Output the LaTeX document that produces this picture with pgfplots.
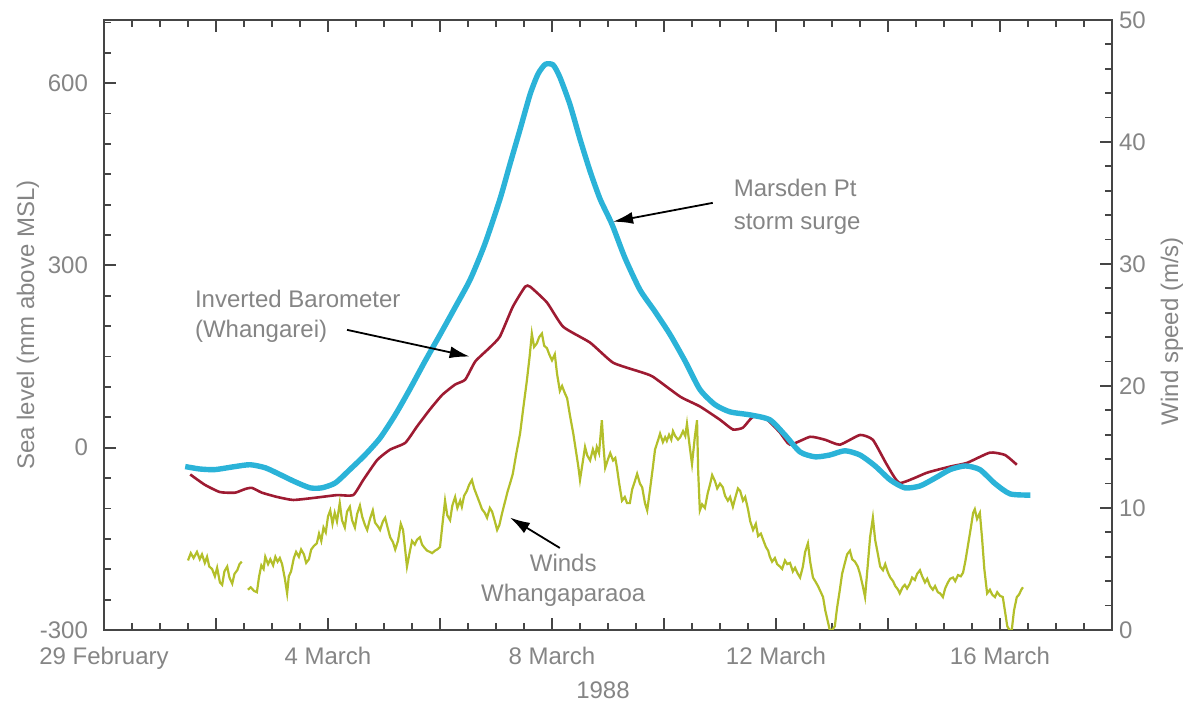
\documentclass[border=0pt]{standalone}
\usepackage{fontspec}
\setmainfont{Liberation Sans}
\usepackage{pgfplots}
\pgfplotsset{compat=1.18}
\usetikzlibrary{arrows.meta}
\definecolor{surge}{HTML}{2BB3D8}
\definecolor{baro}{HTML}{9E1B32}
\definecolor{windc}{HTML}{B3BF2A}
\definecolor{txt}{HTML}{858585}
\definecolor{axc}{HTML}{454545}
\begin{document}
\begin{tikzpicture}
\begin{axis}[at={(0,0)}, anchor=south west,
  scale only axis, width=504pt, height=305pt,
  xmin=0, xmax=18, ymin=-300, ymax=704,
  axis line style={axc, line width=0.8pt},
  every major tick/.append style={draw=axc, line width=1pt},
  every minor tick/.append style={draw=axc, line width=0.9pt},
  tick align=inside,
  major tick length=6pt, minor tick length=3.5pt,
  xtick={0,2,...,18},
  xticklabels={29 February,,4 March,,8 March,,12 March,,16 March,},
  minor xtick={0.5,1,...,17.5},
  xtick pos=both,
  ytick={-300,0,300,600},
  yticklabels={-300,0,300,600},
  minor ytick={-250,-200,...,700},
  ytick pos=left,
  tick label style={font=\fontsize{12}{14}\selectfont, text=txt},
  label style={font=\fontsize{12}{14}\selectfont, text=txt},
  xlabel={1988},
  ylabel={Sea level (mm above MSL)},
  ylabel style={at={(axis description cs:-0.0754,0.5)}, anchor=center},
  xlabel style={at={(axis description cs:0.495,-0.098)}, anchor=center},
  xticklabel style={yshift=-5pt},
  yticklabel style={xshift=-4.5pt},
]
% Inverted barometer (Whangarei)
\addplot[baro, line width=1.3pt, smooth, tension=0.3] table {
1.54 -44
1.80 -61
2.07 -73
2.34 -74
2.52 -68
2.64 -66
2.82 -74
3.09 -81
3.38 -86
3.80 -82
4.16 -78
4.45 -78
4.63 -53
4.88 -20
5.11 -3
5.38 8
5.59 35
5.82 63
6.04 87
6.27 104
6.45 112
6.63 142
6.89 165
7.07 183
7.30 232
7.52 265
7.61 265
7.91 239
8.20 199
8.68 173
9.09 140
9.57 125
9.80 117
10.29 84
10.64 68
11.00 46
11.23 30
11.41 33
11.59 51
11.84 46
12.07 25
12.25 5
12.61 18
12.88 13
13.14 5
13.50 21
13.73 13
13.98 -28
14.21 -58
14.70 -41
15.11 -31
15.41 -25
15.82 -8
16.09 -12
16.30 -28
};
% Marsden Pt storm surge
\addplot[surge, line width=2.7pt, smooth, tension=0.4] table {
1.45 -31
1.71 -35
1.98 -36
2.34 -31
2.61 -28
2.88 -33
3.14 -44
3.41 -56
3.68 -66
3.89 -66
4.13 -58
4.39 -36
4.66 -12
4.93 16
5.20 54
5.46 96
5.73 142
6.00 186
6.27 231
6.54 277
6.80 335
7.07 409
7.25 467
7.43 524
7.61 582
7.75 615
7.88 631
8.02 630
8.14 610
8.32 565
8.50 508
8.68 455
8.86 409
9.07 368
9.30 313
9.57 260
9.84 224
10.11 186
10.38 142
10.64 96
10.91 71
11.18 59
11.54 54
11.89 46
12.16 21
12.43 -7
12.70 -15
12.96 -12
13.23 -5
13.50 -12
13.77 -30
14.04 -53
14.30 -66
14.57 -63
14.84 -50
15.11 -36
15.38 -30
15.64 -36
15.91 -59
16.18 -76
16.54 -78
};
% annotations
\node[anchor=west, align=left, text=txt, font=\fontsize{12}{16.5}\selectfont]
  at (axis cs:11.12,397) {Marsden Pt\\storm surge};
\draw[black, line width=0.9pt, -{Latex[length=10pt,width=6pt]}]
  (axis cs:10.87,403) -- (axis cs:9.09,372);
\node[anchor=west, align=left, text=txt, font=\fontsize{12}{15}\selectfont]
  at (axis cs:1.50,216) {Inverted Barometer\\(Whangarei)};
\draw[black, line width=0.9pt, -{Latex[length=10pt,width=6pt]}]
  (axis cs:4.34,194) -- (axis cs:6.53,150);
\node[anchor=center, align=center, text=txt, font=\fontsize{12}{15}\selectfont]
  at (axis cs:8.2,-218) {Winds\\Whangaparaoa};
\draw[black, line width=0.9pt, -{Latex[length=10pt,width=6pt]}]
  (axis cs:8.14,-165) -- (axis cs:7.25,-115);
\end{axis}
\begin{axis}[at={(0,0)}, anchor=south west,
  scale only axis, width=504pt, height=305pt,
  xmin=0, xmax=18, ymin=0, ymax=50,
  axis x line=none,
  axis y line*=right,
  axis line style={axc, line width=0.8pt},
  every major tick/.append style={draw=axc, line width=1pt},
  every minor tick/.append style={draw=axc, line width=0.9pt},
  tick align=inside,
  major tick length=6pt, minor tick length=3.5pt,
  ytick={0,10,...,50},
  minor ytick={2,4,...,48},
  tick label style={font=\fontsize{12}{14}\selectfont, text=txt},
  label style={font=\fontsize{12}{14}\selectfont, text=txt},
  /pgf/number format/assume math mode=true,
  ylabel={Wind speed (m/s)},
  ylabel style={at={(axis description cs:1.0595,0.49)}, anchor=center},
  unbounded coords=jump,
]
\addplot[windc, line width=1.1pt] table {
1.50 5.7
1.55 6.3
1.60 5.9
1.66 6.4
1.71 5.8
1.75 6.2
1.80 5.5
1.84 6.0
1.88 5.2
1.93 5.0
1.98 4.4
2.02 5.1
2.07 3.9
2.11 3.7
2.15 4.8
2.20 5.2
2.24 4.3
2.29 3.8
2.33 4.6
2.38 4.9
2.42 5.4
2.46 5.6
2.51 nan
2.57 3.3
2.62 3.5
2.68 3.2
2.73 3.1
2.77 4.4
2.81 5.3
2.85 5.0
2.88 6.0
2.93 5.4
2.97 5.8
3.02 5.3
3.06 6.0
3.10 5.6
3.14 5.9
3.18 5.4
3.23 4.2
3.27 3.0
3.30 4.4
3.34 4.8
3.39 5.9
3.43 6.4
3.48 6.0
3.52 6.6
3.57 6.2
3.61 5.5
3.66 5.8
3.70 6.6
3.75 6.9
3.80 7.1
3.84 7.9
3.88 7.3
3.92 8.4
3.96 8.0
4.00 9.3
4.04 9.8
4.08 8.7
4.12 9.6
4.16 8.9
4.21 10.4
4.25 9.0
4.30 8.4
4.34 9.7
4.39 10.1
4.43 9.0
4.48 8.4
4.52 9.5
4.57 10.2
4.61 9.3
4.66 8.6
4.70 8.2
4.75 9.1
4.80 9.8
4.84 8.8
4.89 8.5
4.93 8.2
4.98 8.9
5.02 9.2
5.07 8.3
5.11 7.6
5.16 7.2
5.20 6.6
5.25 7.3
5.30 8.7
5.34 8.2
5.38 6.5
5.41 5.2
5.46 6.4
5.50 7.3
5.55 7.0
5.59 7.4
5.64 7.6
5.68 7.0
5.73 6.7
5.77 6.5
5.82 6.4
5.86 6.3
5.91 6.5
5.95 6.6
6.00 6.8
6.04 8.5
6.09 10.6
6.13 9.4
6.18 9.0
6.22 10.2
6.27 10.9
6.31 10.0
6.36 10.6
6.39 10.1
6.43 11.0
6.48 11.4
6.52 11.9
6.57 12.3
6.61 11.6
6.66 11.0
6.71 10.4
6.75 9.9
6.80 9.6
6.84 9.2
6.89 10.0
6.93 9.7
6.98 8.9
7.02 8.2
7.06 8.6
7.11 9.6
7.16 10.5
7.21 11.4
7.25 12.0
7.30 12.8
7.36 14.4
7.43 16.1
7.49 18.3
7.55 20.4
7.60 22.4
7.64 24.3
7.68 23.2
7.73 23.5
7.77 24.0
7.82 24.3
7.86 23.3
7.91 23.1
7.95 22.6
8.00 22.1
8.05 22.6
8.09 21.0
8.14 19.6
8.18 20.0
8.23 19.4
8.27 19.0
8.32 17.6
8.38 16.1
8.43 14.6
8.47 13.4
8.50 12.3
8.55 13.8
8.59 15.0
8.63 14.3
8.68 13.9
8.73 14.8
8.77 14.2
8.80 15.0
8.84 14.5
8.89 17.2
8.92 15.0
8.95 13.3
9.00 14.0
9.04 14.5
9.09 13.9
9.13 14.1
9.16 13.3
9.20 12.0
9.25 10.6
9.30 10.9
9.34 10.4
9.39 10.4
9.43 11.5
9.48 12.2
9.52 12.8
9.57 12.0
9.61 11.7
9.66 10.4
9.70 9.8
9.75 11.5
9.80 13.3
9.84 14.8
9.89 15.5
9.93 16.1
9.98 15.4
10.02 15.8
10.05 15.5
10.09 16.0
10.13 15.6
10.16 16.3
10.20 15.9
10.25 15.6
10.29 15.8
10.34 16.3
10.38 15.9
10.41 16.9
10.46 15.0
10.50 13.6
10.55 15.8
10.59 17.2
10.61 13.0
10.64 9.8
10.68 10.3
10.73 10.0
10.78 11.2
10.82 11.9
10.86 12.7
10.91 12.2
10.95 11.6
11.00 12.0
11.05 11.7
11.09 11.0
11.14 10.6
11.18 10.9
11.23 10.1
11.27 10.8
11.32 11.6
11.36 11.4
11.41 10.6
11.45 10.9
11.50 9.9
11.54 8.9
11.59 8.2
11.64 8.7
11.68 7.7
11.73 7.9
11.77 7.4
11.82 6.8
11.86 6.5
11.89 6.0
11.93 5.6
11.98 5.9
12.02 5.4
12.07 5.2
12.11 5.0
12.16 5.7
12.20 5.4
12.25 5.5
12.30 4.8
12.34 5.1
12.39 4.6
12.43 4.3
12.48 5.2
12.52 6.4
12.57 7.1
12.61 5.6
12.66 4.3
12.70 4.0
12.75 3.6
12.79 3.2
12.84 2.7
12.88 1.6
12.93 0.6
12.96 0.0
13.00 0.0
13.05 0.3
13.09 1.8
13.14 3.3
13.18 4.6
13.23 5.5
13.27 6.2
13.32 6.5
13.36 5.8
13.41 5.6
13.46 5.2
13.50 4.6
13.55 3.6
13.59 2.7
13.64 5.4
13.68 7.6
13.73 9.2
13.77 7.4
13.82 6.2
13.86 5.2
13.91 4.9
13.95 5.4
14.00 4.7
14.04 4.3
14.09 4.0
14.13 3.6
14.18 3.3
14.21 3.0
14.26 3.5
14.30 3.7
14.34 3.4
14.39 3.8
14.43 4.3
14.48 4.1
14.52 4.6
14.57 4.9
14.61 4.4
14.66 3.9
14.70 4.2
14.75 3.6
14.80 3.3
14.84 3.6
14.89 3.1
14.93 3.0
14.98 2.7
15.02 3.4
15.07 3.9
15.11 4.2
15.16 4.3
15.20 4.0
15.25 4.5
15.30 4.4
15.34 4.7
15.38 5.6
15.43 7.0
15.48 8.4
15.52 9.6
15.55 9.9
15.59 9.1
15.64 9.6
15.68 7.5
15.72 5.0
15.77 3.0
15.82 3.3
15.86 2.9
15.91 2.7
15.95 3.1
16.00 2.8
16.05 2.7
16.09 1.5
16.13 0.3
16.17 0.0
16.21 0.0
16.25 1.6
16.30 2.7
16.34 2.9
16.38 3.3
16.41 3.5
};
\end{axis}
\pgfresetboundingbox
\path (-52pt,-37pt) rectangle (546.5pt,315pt);
\end{tikzpicture}
\end{document}
